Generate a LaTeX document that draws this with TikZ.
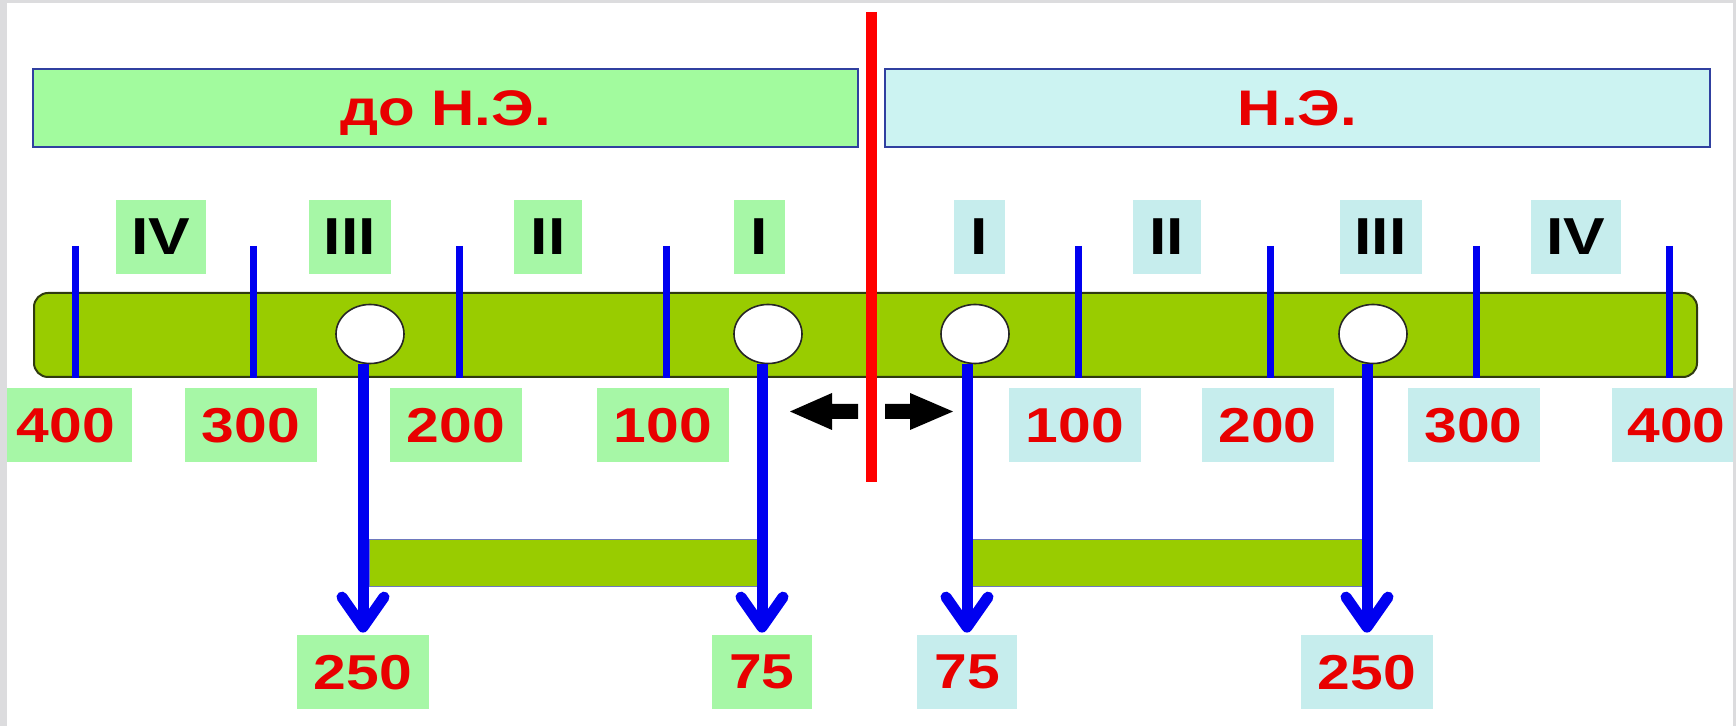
\documentclass[tikz,border=0pt]{standalone}
\usepackage{fontspec}
\setmainfont{Liberation Sans}
\usepackage{graphicx}
\usetikzlibrary{arrows.meta,shapes.geometric}
\definecolor{bargreen}{HTML}{99CC00}
\definecolor{baredge}{HTML}{2F3A10}
\definecolor{bannergreen}{HTML}{A2FB9E}
\definecolor{bannercyan}{HTML}{CCF3F2}
\definecolor{labgreen}{HTML}{A6F7A6}
\definecolor{labcyan}{HTML}{C6EDED}
\definecolor{txtred}{HTML}{E80000}
\definecolor{lineblue}{HTML}{0000F0}
\definecolor{edgeblue}{HTML}{3040A0}
\definecolor{framegray}{HTML}{DCDCDE}
\newcommand{\wtext}[1]{\scalebox{1.2}[1]{#1}}
\begin{document}
\begin{tikzpicture}[x=0.5pt,y=-0.5pt,
  lab/.style={inner sep=0pt, minimum height=37pt, text depth=0pt,
    font=\fontsize{24.5}{29}\selectfont\bfseries, text=txtred},
  roman/.style={inner sep=0pt, minimum height=37pt, text depth=0pt,
    font=\fontsize{26}{30}\selectfont\bfseries, text=black},
  gbox/.style={fill=labgreen},
  cbox/.style={fill=labcyan},
  banner/.style={draw=edgeblue, line width=1pt, inner sep=0pt, minimum height=39pt,
    minimum width=412.5pt, text depth=0pt,
    font=\fontsize{25}{30}\selectfont\bfseries, text=txtred},
  tickline/.style={draw=lineblue, line width=3.5pt},
  hole/.style={ellipse, draw=black!85, fill=white, line width=0.8pt,
    minimum width=34pt, minimum height=29.5pt, inner sep=0pt},
  downarrow/.style={draw=lineblue, line width=5.5pt,
    -{Straight Barb[length=15pt,width=21pt,round]}},
  span/.style={fill=bargreen, draw=edgeblue!70, line width=0.5pt, inner sep=0pt,
    minimum height=23.5pt},
  redline/.style={draw=red, line width=5.5pt},
  blackarrow/.style={fill=black},
]
\useasboundingbox (0,0) rectangle (1736,726);
\fill[white] (0,0) rectangle (1736,726);

% banners
\node[banner, fill=bannergreen] (bc) at (445.5,108) {\wtext{до Н.Э.}};
\node[banner, fill=bannercyan] (ad) at (1297.5,108) {\wtext{Н.Э.}};

% roman numerals
\node[roman, gbox, minimum width=45pt]   (rl4) at (161,237)   {\wtext{IV}};
\node[roman, gbox, minimum width=41pt]   (rl3) at (350,237)   {\wtext{III}};
\node[roman, gbox, minimum width=34pt]   (rl2) at (548,237)   {\wtext{II}};
\node[roman, gbox, minimum width=25.5pt] (rl1) at (759.5,237) {\wtext{I}};
\node[roman, cbox, minimum width=25.5pt] (rr1) at (979.5,237) {\wtext{I}};
\node[roman, cbox, minimum width=34pt]   (rr2) at (1166.5,237) {\wtext{II}};
\node[roman, cbox, minimum width=41pt]   (rr3) at (1380.5,237) {\wtext{III}};
\node[roman, cbox, minimum width=45pt]   (rr4) at (1576,237)  {\wtext{IV}};

% main bar
\node[fill=bargreen, draw=baredge, line width=1pt, rounded corners=7pt,
  minimum width=831.5pt, minimum height=42pt, inner sep=0pt] (bar) at (865.5,335) {};

% ticks
\foreach \n/\x in {tl4/75, tl3/253, tl2/459, tl1/666, tr1/1078, tr2/1270, tr3/1476, tr4/1669} {
  \coordinate (\n) at (\x,246);
  \draw[tickline] (\n) -- (\n |- bar.south);
}

% holes
\node[hole] (c1) at (370,334) {};
\node[hole] (c2) at (768,334) {};
\node[hole] (c3) at (975,334) {};
\node[hole] (c4) at (1373,334) {};

% scale numbers
\node[lab, gbox, minimum width=66pt] (nl4) at (66,425)    {\wtext{400}};
\node[lab, gbox, minimum width=66pt] (nl3) at (251,425)   {\wtext{300}};
\node[lab, gbox, minimum width=66pt] (nl2) at (456,425)   {\wtext{200}};
\node[lab, gbox, minimum width=66pt] (nl1) at (663,425)   {\wtext{100}};
\node[lab, cbox, minimum width=66pt] (nr1) at (1075,425)  {\wtext{100}};
\node[lab, cbox, minimum width=66pt] (nr2) at (1267.5,425) {\wtext{200}};
\node[lab, cbox, minimum width=66pt] (nr3) at (1473.5,425) {\wtext{300}};
\node[lab, cbox, minimum width=64.5pt] (nr4) at (1676.5,425) {\wtext{400}};

% red zero line
\coordinate (ztop) at (871.5,12);
\coordinate (zbot) at (871.5,482);
\draw[redline] (ztop) -- (zbot);

% black direction arrows
\fill[blackarrow] (790,411.5) -- (832,393) -- (832,404) -- (858,404) -- (858,419)
  -- (832,419) -- (832,430) -- cycle;
\fill[blackarrow] (953,411.5) -- (910,393) -- (910,404) -- (885,404) -- (885,419)
  -- (910,419) -- (910,430) -- cycle;

% spans
\node[span, minimum width=194pt] (s1) at (563,563.5) {};
\node[span, minimum width=195pt] (s2) at (1167,563.5) {};

% result numbers
\node[lab, gbox, minimum width=66pt] (b1) at (363,672)  {\wtext{250}};
\node[lab, gbox, minimum width=50pt] (b2) at (762,672)  {\wtext{75}};
\node[lab, cbox, minimum width=50pt] (b3) at (967,672)  {\wtext{75}};
\node[lab, cbox, minimum width=66pt] (b4) at (1367,672) {\wtext{250}};

% blue arrows
\draw[downarrow] (c1.south -| b1.north) -- ([yshift=1pt]b1.north);
\draw[downarrow] (c2.south -| b2.north) -- ([yshift=1pt]b2.north);
\draw[downarrow] (c3.south -| b3.north) -- ([yshift=1pt]b3.north);
\draw[downarrow] (c4.south -| b4.north) -- ([yshift=1pt]b4.north);

% frame
\fill[framegray] (0,0) rectangle (7,726);
\fill[framegray] (0,0) rectangle (1736,3);
\fill[framegray] (1733,0) rectangle (1736,726);
\end{tikzpicture}
\end{document}
